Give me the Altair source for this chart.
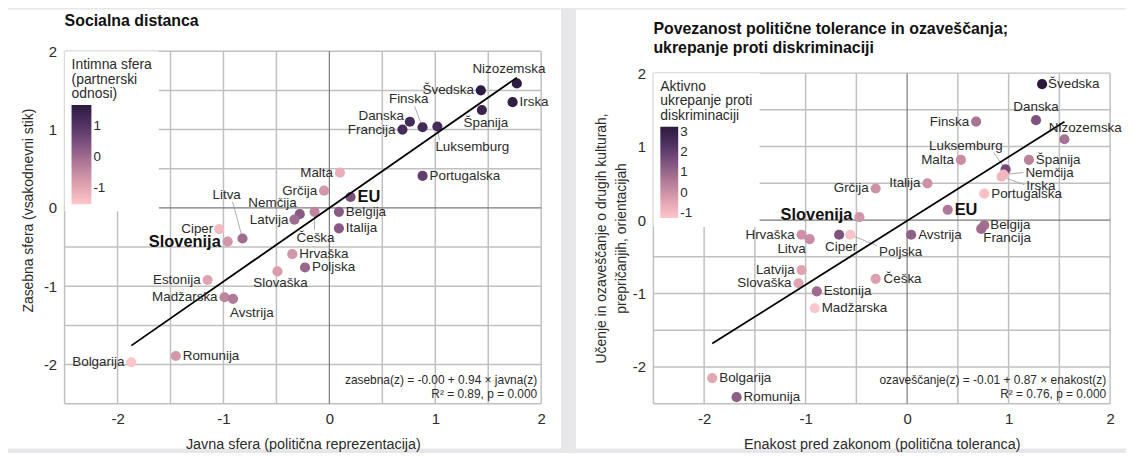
import altair as alt
import pandas as pd

# ---------------- data: left panel (Socialna distanca) ----------------
L_COUNTRY = ["Nizozemska", "Švedska", "Irska", "Španija", "Danska", "Finska", "Francija",
             "Luksemburg", "Portugalska", "Malta", "Grčija", "EU", "Belgija", "Italija",
             "Nemčija", "Latvija", "Češka", "Ciper", "Slovenija", "Litva", "Hrvaška",
             "Poljska", "Slovaška", "Estonija", "Madžarska", "Avstrija", "Romunija", "Bolgarija"]
L_JAVNA = [1.77, 1.43, 1.73, 1.44, 0.76, 0.88, 0.69, 1.02, 0.88, 0.10, -0.05, 0.20, 0.09, 0.09,
           -0.28, -0.33, -0.14, -1.04, -0.96, -0.82, -0.35, -0.23, -0.49, -1.15, -0.99, -0.91,
           -1.45, -1.87]
L_ZASEBNA = [1.59, 1.50, 1.35, 1.25, 1.10, 1.03, 1.00, 1.04, 0.41, 0.45, 0.22, 0.14, -0.05, -0.26,
             -0.08, -0.15, -0.05, -0.27, -0.43, -0.39, -0.59, -0.76, -0.81, -0.92, -1.14, -1.16,
             -1.89, -1.97]
L_INTIMNA = [1.6, 1.6, 1.55, 1.4, 1.25, 1.25, 1.2, 1.2, 0.8, -1.1, -0.7, 0.5, 0.3, 0.3,
             0.3, 0.0, -0.4, -1.3, -0.7, 0.0, -0.7, 0.1, -0.8, -0.9, -0.4, -0.2, -0.7, -1.5]
L_COEF = [-0.00, 0.94]
L_TITLE = ["Socialna distanca"]
L_STATS = ["zasebna(z) = -0.00 + 0.94 × javna(z)", "R² = 0.89, p = 0.000"]
L_CDOMAIN = [-1.5, 1.67]
L_LEGEND_VALUES = [-1, 0, 1]

# ---------------- data: right panel ----------------
R_COUNTRY = ["Švedska", "Danska", "Finska", "Nizozemska", "Španija", "Malta", "Luksemburg",
             "Nemčija", "Irska", "Italija", "Grčija", "Portugalska", "EU", "Slovenija",
             "Belgija", "Francija", "Hrvaška", "Litva", "Ciper", "Poljska", "Avstrija",
             "Latvija", "Slovaška", "Estonija", "Madžarska", "Češka", "Bolgarija", "Romunija"]
R_ENAKOST = [1.33, 1.27, 0.68, 1.55, 1.20, 0.53, 0.97, 0.95, 0.93, 0.20, -0.31, 0.76, 0.40, -0.47,
             0.76, 0.73, -1.04, -0.96, -0.67, -0.56, 0.04, -1.04, -1.07, -0.89, -0.91, -0.31,
             -1.92, -1.68]
R_OZAVESCANJE = [1.85, 1.36, 1.34, 1.10, 0.82, 0.82, 0.69, 0.62, 0.59, 0.50, 0.43, 0.36, 0.14, 0.04,
                 -0.07, -0.12, -0.20, -0.26, -0.20, -0.20, -0.20, -0.68, -0.86, -0.97, -1.20, -0.80,
                 -2.15, -2.41]
R_AKTIVNO = [3.24, 1.5, 0.7, 0.75, 0.4, 0.1, 1.7, -0.9, -0.9, 0.0, 0.0, -1.1, 0.6, -0.1,
             0.8, 0.9, 0.0, 0.1, 1.5, -1.2, 1.2, -0.4, -0.4, 0.9, -1.25, -0.3, -0.5, 1.2]
R_COEF = [-0.01, 0.87]
R_TITLE = ["Povezanost politične tolerance in ozaveščanja;", "ukrepanje proti diskriminaciji"]
R_STATS = ["ozaveščanje(z) = -0.01 + 0.87 × enakost(z)", "R² = 0.76, p = 0.000"]
R_CDOMAIN = [-1.25, 3.24]
R_LEGEND_VALUES = [-1, 0, 1, 2, 3]

DOMAIN = [-2.5, 2.0]
GRID_VALUES = [-2.5, -2.0, -1.5, -1.0, -0.5, 0.5, 1.0, 1.5, 2.0]
TICK_VALUES = [-2, -1, 0, 1, 2]
ZERO = [0]
BOLD_LABELS = ["Slovenija", "EU"]

# ---------------- styling: label placement (align, dx px, dy px) ----------------
L_PLACE = {
    "Nizozemska": ("center", -8, -14), "Švedska": ("right", -7, 0), "Irska": ("left", 7, 0),
    "Španija": ("center", 4, 13), "Danska": ("right", -6, -6), "Finska": ("center", -14, -28),
    "Francija": ("right", -7, 0), "Luksemburg": ("left", -2, 21), "Portugalska": ("left", 7, 0),
    "Malta": ("right", -7, 0), "Grčija": ("right", -7, 0), "EU": ("left", 7, 0),
    "Belgija": ("left", 7, 0), "Italija": ("left", 7, 0), "Nemčija": ("right", -3, -11),
    "Latvija": ("right", -6, 0), "Češka": ("center", 1, 26), "Ciper": ("right", -6, 0),
    "Slovenija": ("right", -7, 0), "Litva": ("center", -16, -44), "Hrvaška": ("left", 7, 0),
    "Poljska": ("left", 7, 0), "Slovaška": ("center", 3, 12), "Estonija": ("right", -7, 0),
    "Madžarska": ("right", -7, 0), "Avstrija": ("center", 19, 14), "Romunija": ("left", 7, 0),
    "Bolgarija": ("right", -7, 0),
}
L_CONN = {"Finska": (-8, -21), "Luksemburg": (2, 14), "Češka": (0, 18), "Litva": (-10, -37)}

R_PLACE = {
    "Švedska": ("left", 6, 0), "Danska": ("center", 0, -13), "Finska": ("right", -7, 0),
    "Nizozemska": ("center", 21, -11), "Španija": ("left", 7, 0), "Malta": ("right", -7, 0),
    "Luksemburg": ("center", -40, -24), "Nemčija": ("left", 22, -2), "Irska": ("left", 25, 9),
    "Italija": ("right", -7, 0), "Grčija": ("right", -7, 0), "Portugalska": ("left", 7, 0),
    "EU": ("left", 7, 0), "Slovenija": ("right", -7, -2), "Belgija": ("left", 6, 0),
    "Francija": ("left", 2, 9), "Hrvaška": ("right", -7, 0), "Litva": ("right", -4, 10),
    "Ciper": ("center", 2, 12), "Poljska": ("left", 29, 17), "Avstrija": ("left", 7, 0),
    "Latvija": ("right", -7, 0), "Slovaška": ("right", -7, 0), "Estonija": ("left", 7, 0),
    "Madžarska": ("left", 7, 0), "Češka": ("left", 8, 0), "Bolgarija": ("left", 7, 0),
    "Romunija": ("left", 7, 0),
}
R_CONN = {"Luksemburg": (-12, -17), "Nemčija": (20, -2), "Irska": (23, 8), "Poljska": (27, 11)}

COLORS = ["#fec6ca", "#dda1b0", "#b27b98", "#805581", "#513364", "#2b1a3d"]
FONT = "Liberation Sans"
TEXT = "#2b2b2b"
GRID = "#c0c0c0"
ZERO_COLOR = "#7a7a7a"
NEG = "datum.value < 0 ? '-' + abs(datum.value) : '' + datum.value"
GROUP_H = 355   # height of both panel groups (pixels)


def seg_frame(vals, orient):
    """Two end rows per line, spanning the full domain (vertical or horizontal)."""
    rows = []
    for i, v in enumerate(vals):
        for b in DOMAIN:
            if orient == "v":
                rows.append({"gid": i, "px": v, "py": b})
            else:
                rows.append({"gid": i, "px": b, "py": v})
    return pd.DataFrame(rows)


def panel(country, xs, ys, cs, coef, title, title_y, stats, place, conn, W, top, card,
          xtitle, ytitle, ytpad, ytitle_y, ltitle, lvalues, cdomain, glen, gthick):
    H = GROUP_H
    span = DOMAIN[1] - DOMAIN[0]
    kx, ky = W / span, (H - top) / span
    df = pd.DataFrame({"land": country, "x": xs, "y": ys, "c": cs})
    df["align"] = [place[n][0] for n in country]
    df["lx"] = [x + place[n][1] / kx for n, x in zip(country, xs)]
    df["ly"] = [y - place[n][2] / ky for n, y in zip(country, ys)]
    df["bold"] = df["land"].isin(BOLD_LABELS)

    crow = []
    for n, x, y in zip(country, xs, ys):
        if n in conn:
            crow.append({"land": n, "k": 0, "px": x, "py": y})
            crow.append({"land": n, "k": 1, "px": x + conn[n][0] / kx, "py": y - conn[n][1] / ky})
    cdf = pd.DataFrame(crow)

    xscale = alt.Scale(domain=DOMAIN, nice=False, zero=False)
    yscale = alt.Scale(domain=DOMAIN, nice=False, zero=False, range=[H, top])
    xaxis = alt.Axis(values=TICK_VALUES, grid=False, domain=False, ticks=False, zindex=1,
                     labelFontSize=15, labelPadding=8, labelColor=TEXT, labelExpr=NEG,
                     labelFlush=False,
                     title=xtitle, titleFontSize=14.5, titleFontWeight="normal",
                     titleColor=TEXT, titlePadding=11)
    yaxis = alt.Axis(values=TICK_VALUES, grid=False, domain=False, ticks=False, zindex=1,
                     labelFontSize=15, labelPadding=8, labelColor=TEXT, labelExpr=NEG,
                     labelFlush=False,
                     title=ytitle, titleFontSize=14, titleFontWeight="normal",
                     titleColor=TEXT, titlePadding=ytpad, titleLineHeight=20,
                     titleY=ytitle_y)

    def X(f):
        return alt.X(f, type="quantitative", scale=xscale, axis=xaxis)

    def Y(f):
        return alt.Y(f, type="quantitative", scale=yscale, axis=yaxis)

    bg = alt.Chart(pd.DataFrame({"card": [1]})).mark_rect(fill="white").encode(
        x=alt.value(card[0]), x2=alt.value(card[1]), y=alt.value(card[2]), y2=alt.value(card[3]))

    def seg_layer(frame, color, width):
        return alt.Chart(frame).mark_line(color=color, strokeWidth=width).encode(
            x=X("px"), y=Y("py"), detail=alt.Detail("gid", type="nominal"),
            order=alt.Order("py:Q"))

    gv = seg_layer(seg_frame(GRID_VALUES, "v"), GRID, 1.5)
    gh = seg_layer(seg_frame(GRID_VALUES, "h"), GRID, 1.5)
    zv = seg_layer(seg_frame(ZERO, "v"), ZERO_COLOR, 1.2)
    zh = seg_layer(seg_frame(ZERO, "h"), ZERO_COLOR, 1.2)
    conns = alt.Chart(cdf).mark_line(color="#a3a3a3", strokeWidth=0.9).encode(
        x=X("px"), y=Y("py"), detail="land:N", order=alt.Order("k:Q"))

    xmin, xmax = min(xs), max(xs)
    ldf = pd.DataFrame({"x": [xmin, xmax], "y": [coef[0] + coef[1] * xmin, coef[0] + coef[1] * xmax]})
    line = alt.Chart(ldf).mark_line(color="black", strokeWidth=1.8).encode(x=X("x"), y=Y("y"))

    pts = alt.Chart(df).mark_circle(size=105, opacity=1).encode(
        x=X("x"), y=Y("y"),
        color=alt.Color("c:Q", scale=alt.Scale(domain=cdomain, range=COLORS, nice=False, zero=False),
                        legend=alt.Legend(title=ltitle, orient="none", legendX=0, legendY=top,
                                          padding=7, fillColor="white", direction="vertical",
                                          gradientLength=glen, gradientThickness=gthick,
                                          gradientStrokeWidth=0, values=lvalues,
                                          labelFontSize=13.5, labelColor=TEXT, labelExpr=NEG,
                                          titleFontSize=14, titleFontWeight="normal",
                                          titleColor=TEXT, titleLineHeight=14.5,
                                          titlePadding=4, titleLimit=200)))

    layers = [bg, gv, gh, zv, zh, conns, pts, line]
    for a in ["left", "right", "center"]:
        sub = df[(df["align"] == a) & (~df["bold"])]
        if len(sub):
            layers.append(alt.Chart(sub).mark_text(align=a, baseline="middle", fontSize=13.5,
                                                   color=TEXT).encode(x=X("lx"), y=Y("ly"), text="land:N"))
        subb = df[(df["align"] == a) & (df["bold"])]
        if len(subb):
            layers.append(alt.Chart(subb).mark_text(align=a, baseline="middle", fontSize=16.5,
                                                    fontWeight="bold", color="#111").encode(
                x=X("lx"), y=Y("ly"), text="land:N"))
    for s, off in zip(stats, [24, 10]):
        layers.append(alt.Chart(pd.DataFrame({"t": [s]})).mark_text(
            align="right", baseline="middle", fontSize=12, color=TEXT).encode(
            x=alt.value(W - 4), y=alt.value(H - off), text="t:N"))
    for s, ty in zip(title, title_y):
        layers.append(alt.Chart(pd.DataFrame({"t": [s]})).mark_text(
            align="left", baseline="middle", fontSize=16, fontWeight="bold", color="#111").encode(
            x=alt.value(0), y=alt.value(ty), text="t:N"))

    return alt.layer(*layers).properties(width=W, height=H)


left = panel(L_COUNTRY, L_JAVNA, L_ZASEBNA, L_INTIMNA, L_COEF, L_TITLE, [-30], L_STATS,
             L_PLACE, L_CONN, 480, 0, (-57, 500, -42, 400),
             "Javna sfera (politična reprezentacija)", "Zasebna sfera (vsakodnevni stik)", 8, 160,
             ["Intimna sfera", "(partnerski", "odnosi)"], L_LEGEND_VALUES, L_CDOMAIN, 100, 20)

right = panel(R_COUNTRY, R_ENAKOST, R_OZAVESCANJE, R_AKTIVNO, R_COEF, R_TITLE, [-22, -3], R_STATS,
              R_PLACE, R_CONN, 460, 22, (-78, 476, -42, 400),
              "Enakost pred zakonom (politična toleranca)",
              ["Učenje in ozaveščanje o drugih kulturah,", "prepričanjih, orientacijah"], 4, 188,
              ["Aktivno", "ukrepanje proti", "diskriminaciji"], R_LEGEND_VALUES, R_CDOMAIN, 92, 18)

chart = alt.hconcat(left, right, spacing=15).resolve_scale(
    color="independent", x="independent", y="independent").properties(
    padding=0, background="#e7e7ea").configure(font=FONT).configure_view(stroke=None)

chart.save("out.html", embed_options={"renderer": "svg", "actions": False})
